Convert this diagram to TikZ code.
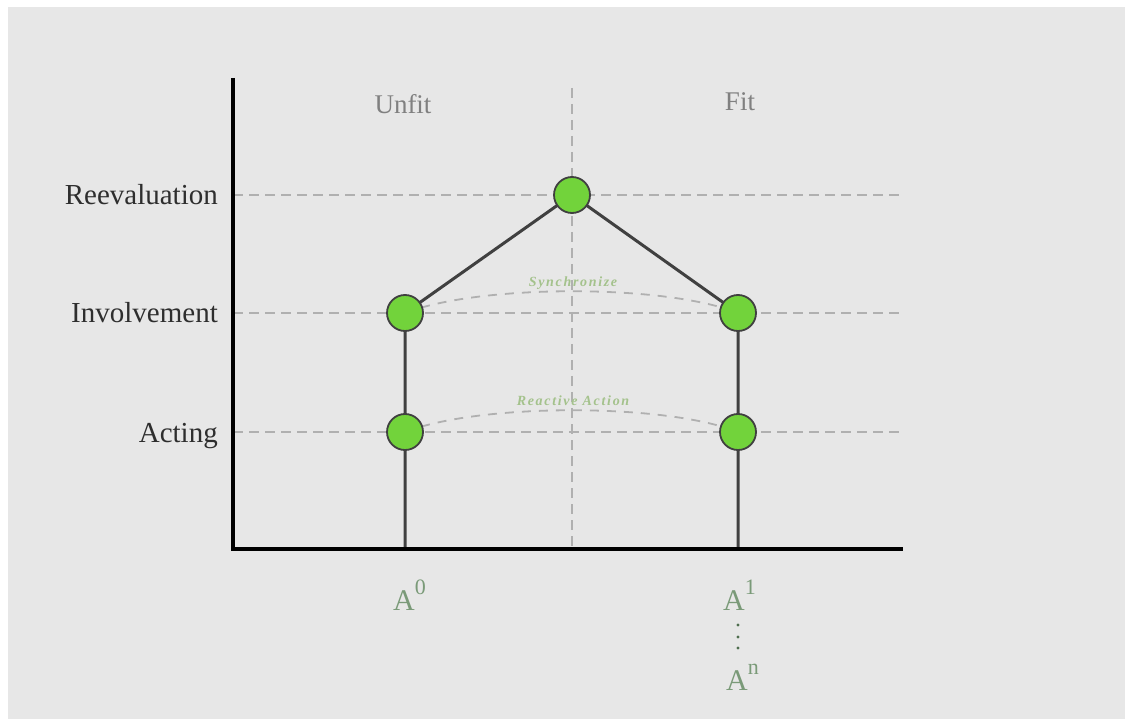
\documentclass[tikz,border=0pt]{standalone}
\usepackage{fontspec}
\setmainfont{Liberation Serif}
\definecolor{bggray}{HTML}{E7E7E7}
\definecolor{gridgray}{HTML}{B0B0B0}
\definecolor{nodegreen}{HTML}{72D33B}
\definecolor{edgedark}{HTML}{404040}
\definecolor{labeldark}{HTML}{2E2E2E}
\definecolor{headgray}{HTML}{808080}
\definecolor{notegreen}{HTML}{A4C28C}
\definecolor{agreen}{HTML}{7A9A78}
\definecolor{dotgreen}{HTML}{4F6E4F}
\begin{document}
\begin{tikzpicture}[x=1pt,y=-1pt,
  grid/.style={draw=gridgray,line width=2.3pt,dash pattern=on 10pt off 6pt},
  arcline/.style={draw=gridgray,line width=1.8pt,dash pattern=on 9pt off 8pt},
  axis/.style={draw=black,line width=4pt},
  link/.style={draw=edgedark,line width=3pt},
  state/.style={circle,draw=edgedark,line width=1.8pt,fill=nodegreen,minimum size=36pt,inner sep=0pt},
  ylab/.style={anchor=base east,text=labeldark,font=\fontsize{29}{29}\selectfont,inner sep=0pt},
  head/.style={text=headgray,font=\fontsize{27}{27}\selectfont,inner sep=0pt},
  note/.style={text=notegreen,font=\fontsize{14}{14}\selectfont\bfseries\itshape\addfontfeature{LetterSpace=12},inner sep=0pt},
  alab/.style={text=agreen,font=\fontsize{30}{30}\selectfont,inner sep=0pt,anchor=base west}
]
\useasboundingbox (0,0) rectangle (1125,719);
\fill[white] (0,0) rectangle (1125,719);
\fill[bggray] (8,7) rectangle (1125,719);

% coordinates
\coordinate (o) at (233,549);
\coordinate (ytop) at (233,78);
\coordinate (xend) at (903,549);
\coordinate (vtop) at (572,88);
\coordinate (vbot) at (572,549);
\coordinate (reL) at (233,195);
\coordinate (reR) at (903,195);
\coordinate (inL) at (233,313);
\coordinate (inR) at (903,313);
\coordinate (acL) at (233,432);
\coordinate (acR) at (903,432);
\coordinate (b0) at (405,549);
\coordinate (b1) at (738,549);

% grid
\draw[grid] (vtop) -- (vbot);
\draw[grid] (reL) -- (reR);
\draw[grid] (inL) -- (inR);
\draw[grid] (acL) -- (acR);

% node positions
\coordinate (pre) at (572,195);
\coordinate (pin0) at (405,313);
\coordinate (pin1) at (738,313);
\coordinate (pac0) at (405,432);
\coordinate (pac1) at (738,432);

% dashed arcs
\draw[arcline] (pin0) .. controls (480,284) and (665,284) .. (pin1);
\draw[arcline] (pac0) .. controls (480,403) and (665,403) .. (pac1);

% solid links
\draw[link] (b0) -- (pin0) -- (pre) -- (pin1) -- (b1);

% axes
\draw[axis] (ytop) -- (233,551);
\draw[axis] (231,549) -- (xend);

% states
\node[state] (re) at (pre) {};
\node[state] (in0) at (pin0) {};
\node[state] (in1) at (pin1) {};
\node[state] (ac0) at (pac0) {};
\node[state] (ac1) at (pac1) {};

% labels
\node[ylab] (lre) at (218,205) {Reevaluation};
\node[ylab] (lin) at (218,323) {Involvement};
\node[ylab] (lac) at (218,442) {Acting};
\node[head] (unfit) at (403,104) {Unfit};
\node[head] (fit) at (740,102) {Fit};
\node[note] (sync) at (573,283) {Synchronize};
\node[note] (react) at (573,401) {Reactive Action};

\node[alab] (a0) at (393,610) {A\raisebox{16pt}{\fontsize{22}{22}\selectfont 0}};
\node[alab] (a1) at (723,610) {A\raisebox{16pt}{\fontsize{22}{22}\selectfont 1}};
\node[alab] (an) at (726,690) {A\raisebox{16pt}{\fontsize{22}{22}\selectfont n}};
\fill[dotgreen] (738,625) circle (1.6pt) (738,637) circle (1.6pt) (738,648) circle (1.6pt);
\end{tikzpicture}
\end{document}
